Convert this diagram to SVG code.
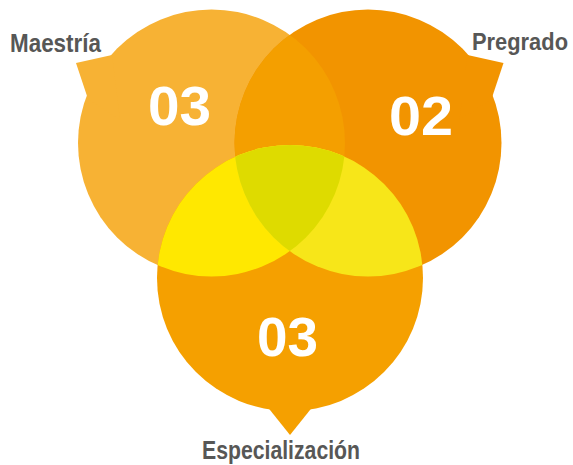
<svg xmlns="http://www.w3.org/2000/svg" width="573" height="465" viewBox="0 0 573 465">
<style>
.lbl{font-family:"Liberation Sans",Arial,sans-serif;font-weight:bold;fill:#575756;font-size:25px}
.num{font-family:"Liberation Sans",Arial,sans-serif;font-weight:bold;fill:#ffffff;font-size:56px}
</style>
<defs>
<clipPath id="cL"><circle cx="211.5" cy="143" r="133.5"/></clipPath>
<clipPath id="cB"><circle cx="290" cy="278" r="133"/></clipPath>
</defs>
<g id="maestria">
<circle cx="211.5" cy="143" r="133.5" fill="#F7B234"/>
<polygon points="112,55 76,63 88,99 120,120" fill="#F7B234"/>
</g>
<g id="pregrado">
<circle cx="368" cy="143" r="133.5" fill="#F29400"/>
<polygon points="467.5,55 503.5,63 491.5,99 459.5,120" fill="#F29400"/>
<circle cx="368" cy="143" r="133.5" fill="#F49F00" clip-path="url(#cL)"/>
</g>
<g id="especializacion">
<circle cx="290" cy="278" r="133" fill="#F5A000"/>
<polygon points="266,405 290,435 314,405" fill="#F5A000"/>
<g clip-path="url(#cB)">
<circle cx="211.5" cy="143" r="133.5" fill="#FFE800"/>
<circle cx="368" cy="143" r="133.5" fill="#F7E619"/>
<circle cx="368" cy="143" r="133.5" fill="#DEDB00" clip-path="url(#cL)"/>
</g>
</g>
<g id="connectors"></g>
<g id="labels">
<text class="lbl" x="10" y="52" textLength="91" lengthAdjust="spacingAndGlyphs">Maestría</text>
<text class="lbl" x="568" y="50" text-anchor="end" style="font-size:23px" textLength="96" lengthAdjust="spacingAndGlyphs">Pregrado</text>
<text class="lbl" x="202" y="459" textLength="158" lengthAdjust="spacingAndGlyphs">Especialización</text>
<text class="num" x="148" y="125" textLength="63" lengthAdjust="spacingAndGlyphs">03</text>
<text class="num" x="389" y="135" textLength="64" lengthAdjust="spacingAndGlyphs">02</text>
<text class="num" x="257" y="356" textLength="61" lengthAdjust="spacingAndGlyphs">03</text>
</g>
</svg>
